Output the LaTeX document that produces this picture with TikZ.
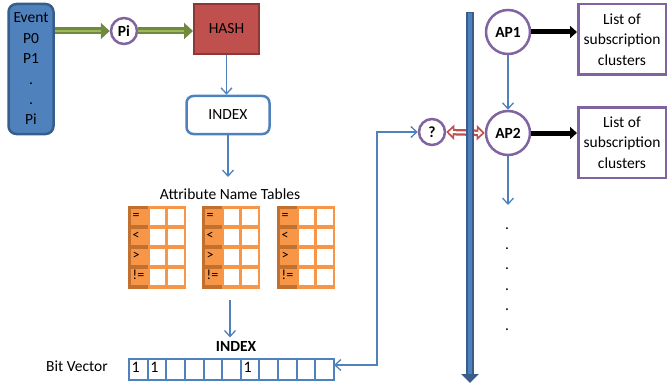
\documentclass[tikz,border=0pt]{standalone}
\usepackage{fontspec}
\setmainfont{Carlito}
\usetikzlibrary{arrows.meta}
\definecolor{blueF}{HTML}{4F81BD}
\definecolor{blueD}{HTML}{385D8A}
\definecolor{redF}{HTML}{C0504D}
\definecolor{redD}{HTML}{8C3836}
\definecolor{grnL}{HTML}{9BBB59}
\definecolor{grnD}{HTML}{71893F}
\definecolor{purp}{HTML}{8064A2}
\definecolor{orgL}{HTML}{F79646}
\definecolor{orgD}{HTML}{C2702F}
\begin{document}
\begin{tikzpicture}[x=1pt,y=-1pt,
  font=\fontsize{15.5}{20.4}\selectfont,
  thinarrow/.style={draw=blueF, line width=1.3pt, -{Straight Barb[length=6pt,width=11pt]}},
  circ/.style={circle, draw=purp, line width=2.5pt, fill=white, inner sep=0pt, font=\fontsize{15.5}{18}\selectfont\bfseries},
  gshaft/.style={line width=7pt, grnD, -{Triangle[length=9pt,width=16pt]}},
  gcore/.style={line width=2.5pt, grnL, shorten >=9pt},
  listbox/.style={draw=purp, line width=2.5pt, fill=white, minimum width=87.5pt, minimum height=70.5pt, align=center, inner sep=0pt},
  opnode/.style={font=\fontsize{14}{16}\selectfont, inner sep=0pt, anchor=base west},
  bitnode/.style={font=\fontsize{16}{16}\selectfont, inner sep=0pt, anchor=base west},
  blackarrow/.style={line width=5pt, black, -{Triangle[length=7pt,width=12pt]}}
]
\useasboundingbox (0,0) rectangle (668,385);

% Event box
\node[rounded corners=8pt, fill=blueF, draw=blueD, line width=2.5pt, minimum width=45pt, minimum height=130pt, align=center, inner sep=0pt] (ev) at (31,69) {Event\\P0\\P1\\.\\.\\Pi};

% Pi circle and HASH
\node[circ, minimum size=26pt] (pi) at (124,31) {Pi};
\node[fill=redF, draw=redD, line width=2pt, minimum width=65pt, minimum height=50pt] (hash) at (226.5,29) {HASH};

\draw[gshaft] (ev.east |- pi) -- (pi.west);
\draw[gcore] (ev.east |- pi) -- (pi.west);
\draw[gshaft] (pi.east) -- (pi.east -| hash.west);
\draw[gcore] (pi.east) -- (pi.east -| hash.west);

% INDEX box
\node[rounded corners=7pt, draw=blueF, line width=2.5pt, fill=white, minimum width=83pt, minimum height=38pt] (index) at (228,115) {INDEX};
\draw[thinarrow] (hash.south) -- (hash.south |- index.north);

% Attribute tables
\node (tt) at (230,194) {Attribute Name Tables};
\coordinate (c1) at (228,177);
\draw[thinarrow] (index.south) -- (c1);

\foreach \tx/\n in {128/a,202/b,277/c} {
  \fill[orgL] (\tx,206) rectangle ++(58.3,83.3);
  \fill[orgD] (\tx,206) rectangle ++(19.5,83.3);
  \foreach \op [count=\k from 0] in {=,<,>,!=} {
    \fill[orgL] ({\tx+3.3},{206+3.3+20*\k}) rectangle ++(16.2,16);
    \fill[white] ({\tx+21.7},{206+3.3+20*\k}) rectangle ++(15,16);
    \fill[white] ({\tx+40},{206+3.3+20*\k}) rectangle ++(15.7,16);
    \node[opnode] (op-\n-\k) at ({\tx+4.5},{206+3.3+20*\k+10.3}) {\op};
  }
}

% arrow to INDEX label
\coordinate (c2) at (230,300);
\node[font=\fontsize{15.5}{18}\selectfont\bfseries] (idxl) at (236,346) {INDEX};
\draw[thinarrow] (c2) -- (c2 |- idxl.north);

% Bit vector
\node (bvl) at (77,366) {Bit Vector};
\node[draw=blueF, line width=2.5pt, outer sep=0pt, minimum width=205pt, minimum height=21pt, inner sep=0pt] (bv) at (231.5,369.5) {};
\foreach \i in {1,...,10} {
  \draw[blueF, line width=2pt] ({129+\i*18.636},359) -- ({129+\i*18.636},380);
}
\foreach \i in {0,1,6} {
  \node[bitnode] (bit\i) at ({129+\i*18.636+2.5},372) {1};
}

% question circle and connector
\node[circ, minimum size=26pt] (q) at (432,132) {?};
\coordinate (t1) at (377,132);
\coordinate (t2) at (377,365);
\draw[thinarrow, {Straight Barb[length=6pt,width=11pt]}-{Straight Barb[length=6pt,width=11pt]}] (bv.east |- t2) -- (t2) -- (t1) -- (q.west);

% AP circles
\node[circ, minimum size=44pt] (ap1) at (508,32) {AP1};
\node[circ, minimum size=44pt] (ap2) at (508,133) {AP2};

% red double arrow
\draw[line width=6.5pt, redF, {Triangle[length=8pt,width=15pt]}-{Triangle[length=8pt,width=15pt]}] (q.east) -- (ap2.west);
\draw[line width=2pt, white, {Triangle[length=4pt,width=7pt]}-{Triangle[length=4pt,width=7pt]}, shorten <=2.5pt, shorten >=2.5pt] (q.east) -- (ap2.west);

% vertical bar
\coordinate (bt) at (470,12);
\coordinate (bb) at (470,383);
\draw[line width=8pt, blueD, -{Triangle[length=9pt,width=17pt]}] (bt) -- (bb);
\draw[line width=4.5pt, blueF, shorten >=9pt, shorten <=1.5pt] (bt) -- (bb);

\draw[thinarrow] (ap1) -- (ap2);
\coordinate (c3) at (508,205);
\draw[thinarrow] (ap2) -- (c3);

% dots
\foreach \k in {0,...,5} {
  \node[inner sep=0pt, anchor=base] (dot\k) at (507,{228+20.2*\k+1.5}) {.};
}

% list boxes
\node[listbox] (list1) at (622,39.5) {List of\\subscription\\clusters};
\node[listbox] (list2) at (622,142.5) {List of\\subscription\\clusters};
\draw[blackarrow] (ap1.east) -- (ap1.east -| list1.west);
\draw[blackarrow] (ap2.east) -- (ap2.east -| list2.west);
\end{tikzpicture}
\end{document}
